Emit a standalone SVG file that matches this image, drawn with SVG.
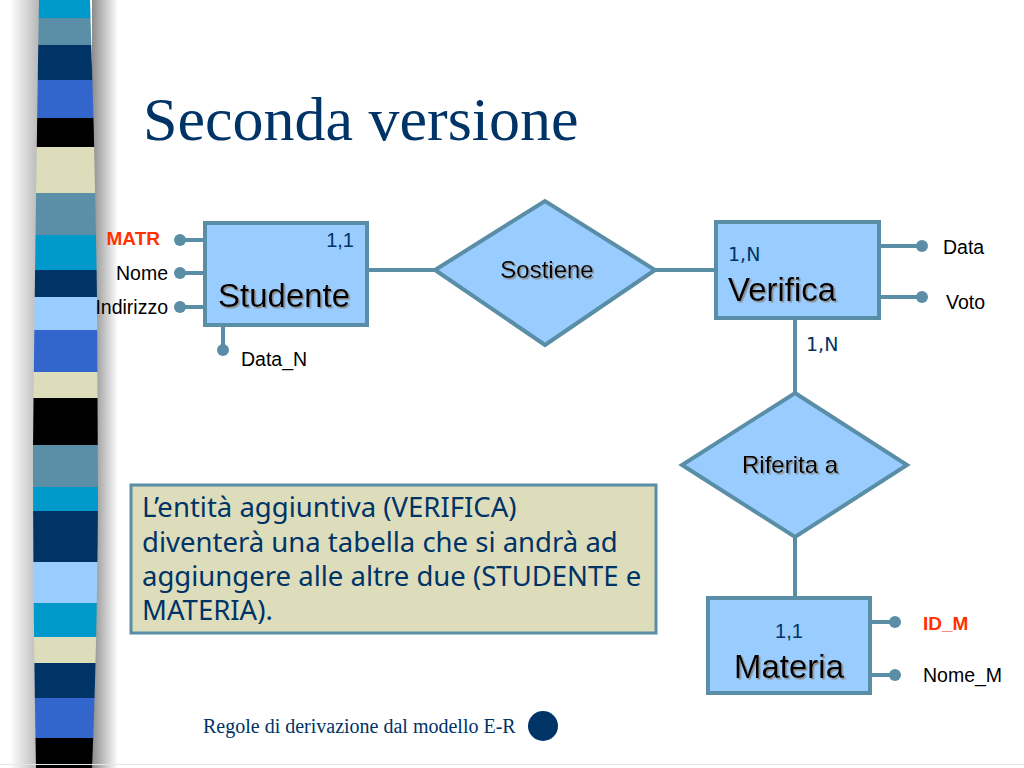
<svg xmlns="http://www.w3.org/2000/svg" width="1024" height="768" viewBox="0 0 1024 768">
<defs>
<style>
.ent{fill:#99ccff;stroke:#5a8ea6;stroke-width:4}
.rel{fill:#99ccff;stroke:#5a8ea6;stroke-width:4;stroke-linejoin:miter}
.ln{stroke:#5a8ea6;stroke-width:4;fill:none}
.dot{fill:#5a8ea6}
.big{font-family:"Liberation Sans",Arial,sans-serif;font-size:33px;fill:#000}
.rlab{font-family:"Liberation Sans",Arial,sans-serif;font-size:24px;fill:#000}
.card{font-family:"Liberation Sans",Arial,sans-serif;font-size:20px;fill:#003366}
.cardn{font-family:"DejaVu Sans",Verdana,sans-serif;font-size:19px;fill:#003366}
.att{font-family:"Liberation Sans",Arial,sans-serif;font-size:19.5px;fill:#000}
.key{font-family:"Liberation Sans",Arial,sans-serif;font-size:19px;font-weight:bold;fill:#ff3300}
.note{font-family:"Noto Sans","Liberation Sans",sans-serif;font-size:27.5px;fill:#003366}
</style>
<filter id="sh" x="-10%" y="-10%" width="130%" height="140%">
<feDropShadow dx="1.5" dy="1.5" stdDeviation="0.4" flood-color="#8a8a8a" flood-opacity="1"/>
</filter>
<linearGradient id="rs" x1="0" y1="0" x2="1" y2="0">
<stop offset="0" stop-color="#8c8c8c"/>
<stop offset="1" stop-color="#ffffff"/>
</linearGradient>
<linearGradient id="ls" x1="0" y1="0" x2="1" y2="0">
<stop offset="0" stop-color="#ffffff"/>
<stop offset="1" stop-color="#b4b4b4"/>
</linearGradient>
<clipPath id="barclip">
<path d="M39,0 L90,0 Q95,150 97,300 L98,500 Q97,650 92,768 L36,768 Q33,600 33,450 Q35,250 39,0 Z"/>
</clipPath>
</defs>
<rect width="1024" height="768" fill="#ffffff"/>
<g id="stripe-bar">
<rect x="10" y="0" width="30" height="768" fill="url(#ls)"/>
<rect x="92" y="0" width="26" height="768" fill="url(#rs)"/>
<g clip-path="url(#barclip)">
<rect x="30" y="0" width="75" height="18" fill="#0099cc"/>
<rect x="30" y="18" width="75" height="27" fill="#5b8fa8"/>
<rect x="30" y="45" width="75" height="35" fill="#003366"/>
<rect x="30" y="80" width="75" height="38" fill="#3366cc"/>
<rect x="30" y="118" width="75" height="29" fill="#000000"/>
<rect x="30" y="147" width="75" height="46" fill="#ddddbb"/>
<rect x="30" y="193" width="75" height="42" fill="#5b8fa8"/>
<rect x="30" y="235" width="75" height="35" fill="#0099cc"/>
<rect x="30" y="270" width="75" height="27" fill="#003366"/>
<rect x="30" y="297" width="75" height="33" fill="#99ccff"/>
<rect x="30" y="330" width="75" height="42" fill="#3366cc"/>
<rect x="30" y="372" width="75" height="26" fill="#ddddbb"/>
<rect x="30" y="398" width="75" height="47" fill="#000000"/>
<rect x="30" y="445" width="75" height="42" fill="#5b8fa8"/>
<rect x="30" y="487" width="75" height="24" fill="#0099cc"/>
<rect x="30" y="511" width="75" height="51" fill="#003366"/>
<rect x="30" y="562" width="75" height="41" fill="#99ccff"/>
<rect x="30" y="603" width="75" height="34" fill="#0099cc"/>
<rect x="30" y="637" width="75" height="26" fill="#ddddbb"/>
<rect x="30" y="663" width="75" height="35" fill="#003366"/>
<rect x="30" y="698" width="75" height="40" fill="#3366cc"/>
<rect x="30" y="738" width="75" height="30" fill="#000000"/>
</g>
</g>
<text id="title" x="143" y="140" font-family="'Liberation Serif','Times New Roman',serif" font-size="62" fill="#003366">Seconda versione</text>
<g id="connectors">
<line class="ln" x1="367" y1="270" x2="435" y2="270"/>
<line class="ln" x1="655" y1="270" x2="716" y2="270"/>
<line class="ln" x1="795" y1="318" x2="795" y2="393"/>
<line class="ln" x1="795" y1="537" x2="795" y2="597"/>
</g>
<g id="attr-matr"><line class="ln" x1="180" y1="240" x2="205" y2="240"/><circle class="dot" cx="180" cy="240" r="6"/><text class="key" x="160" y="245" text-anchor="end">MATR</text></g>
<g id="attr-nome"><line class="ln" x1="180" y1="273" x2="205" y2="273"/><circle class="dot" cx="180" cy="273" r="6"/><text class="att" x="168" y="280" text-anchor="end">Nome</text></g>
<g id="attr-indirizzo"><line class="ln" x1="180" y1="307" x2="205" y2="307"/><circle class="dot" cx="180" cy="307" r="6"/><text class="att" x="168" y="314" text-anchor="end">Indirizzo</text></g>
<g id="attr-datan"><line class="ln" x1="223" y1="325" x2="223" y2="350"/><circle class="dot" cx="223" cy="350" r="6"/><text class="att" x="241" y="366">Data_N</text></g>
<g id="studente">
<rect class="ent" x="205" y="223" width="162" height="102"/>
<text class="card" x="354" y="247" text-anchor="end">1,1</text>
<text class="big" x="218" y="307" filter="url(#sh)">Studente</text>
</g>
<g id="sostiene">
<polygon class="rel" points="435,270 545,201 655,270 545,345"/>
<text class="rlab" x="547" y="278" text-anchor="middle" filter="url(#sh)">Sostiene</text>
</g>
<g id="verifica">
<rect class="ent" x="716" y="222" width="163" height="96"/>
<text class="cardn" x="728" y="261">1,N</text>
<text class="big" x="728" y="301" filter="url(#sh)">Verifica</text>
</g>
<g id="attr-data"><line class="ln" x1="879" y1="246" x2="922" y2="246"/><circle class="dot" cx="922" cy="246" r="6"/><text class="att" x="943" y="254">Data</text></g>
<g id="attr-voto"><line class="ln" x1="879" y1="297" x2="922" y2="297"/><circle class="dot" cx="922" cy="297" r="6"/><text class="att" x="946" y="309">Voto</text></g>
<text id="card-verifica-riferita" class="cardn" x="806" y="351">1,N</text>
<g id="riferita">
<polygon class="rel" points="795,393 907,465 795,537 682,465"/>
<text class="rlab" x="790" y="473" text-anchor="middle" filter="url(#sh)">Riferita a</text>
</g>
<g id="materia">
<rect class="ent" x="708" y="598" width="162" height="95"/>
<text class="card" x="789" y="638" text-anchor="middle">1,1</text>
<text class="big" x="789" y="678" text-anchor="middle" filter="url(#sh)">Materia</text>
</g>
<g id="attr-idm"><line class="ln" x1="870" y1="622" x2="895" y2="622"/><circle class="dot" cx="895" cy="622" r="6"/><text class="key" x="923" y="630">ID_M</text></g>
<g id="attr-nomem"><line class="ln" x1="870" y1="675" x2="895" y2="675"/><circle class="dot" cx="895" cy="675" r="6"/><text class="att" x="923" y="682">Nome_M</text></g>
<g id="note">
<rect x="131" y="485" width="525" height="148" fill="#ddddbb" stroke="#5a8ea6" stroke-width="3"/>
<text class="note" x="142" y="517">L’entità aggiuntiva (VERIFICA)</text>
<text class="note" x="142" y="552">diventerà una tabella che si andrà ad</text>
<text class="note" x="142" y="586">aggiungere alle altre due (STUDENTE e</text>
<text class="note" x="142" y="620">MATERIA).</text>
</g>
<g id="footer">
<text x="203" y="733" font-family="'Liberation Serif','Times New Roman',serif" font-size="20" fill="#003366">Regole di derivazione dal modello E-R</text>
<circle cx="543" cy="726" r="15" fill="#003366"/>
</g>
<line x1="0" y1="764.5" x2="1024" y2="764.5" stroke="#e6e6e6" stroke-width="1"/>
</svg>
